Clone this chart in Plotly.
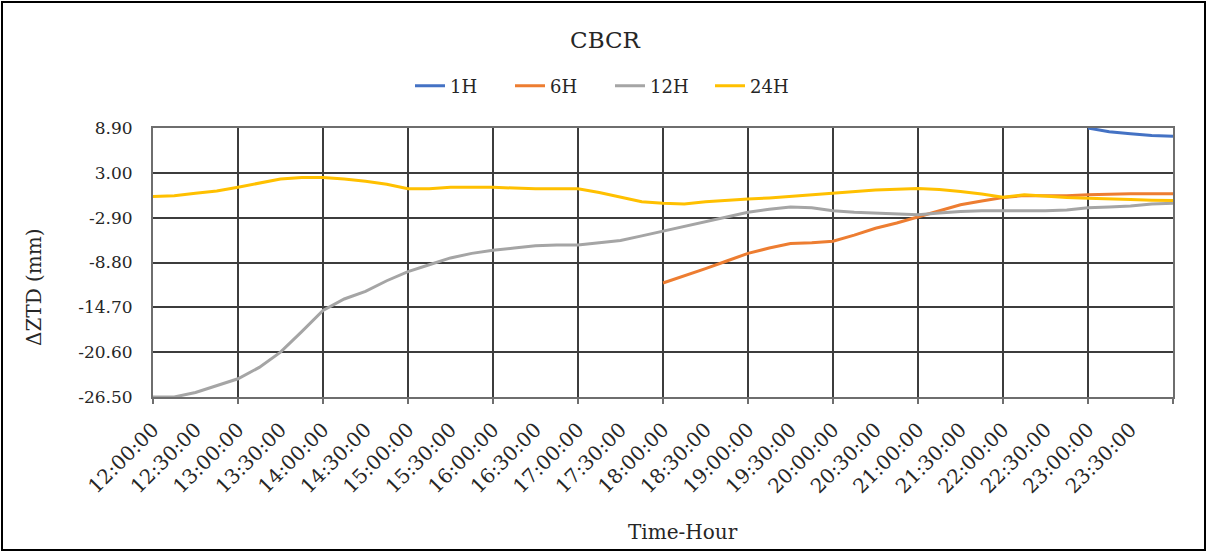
import plotly.graph_objects as go

# Sample times (every 15 minutes, "24:00" = end of day)
TIMES = ["12:00", "12:15", "12:30", "12:45", "13:00", "13:15", "13:30", "13:45",
         "14:00", "14:15", "14:30", "14:45", "15:00", "15:15", "15:30", "15:45",
         "16:00", "16:15", "16:30", "16:45", "17:00", "17:15", "17:30", "17:45",
         "18:00", "18:15", "18:30", "18:45", "19:00", "19:15", "19:30", "19:45",
         "20:00", "20:15", "20:30", "20:45", "21:00", "21:15", "21:30", "21:45",
         "22:00", "22:15", "22:30", "22:45", "23:00", "23:15", "23:30", "23:45",
         "24:00"]

# ΔZTD (mm) for each forecast horizon; None where the series has no data
ZTD_1H = [None] * 44 + [8.9, 8.4, 8.15, 7.9, 7.8]

ZTD_6H = [None] * 24 + [-11.5, -10.6, -9.6, -8.6, -7.6, -6.9, -6.3, -6.2,
                        -6.0, -5.2, -4.3, -3.6, -2.8, -1.9, -1.2, -0.7,
                        -0.25, 0.0, 0.0, 0.0, 0.1, 0.2, 0.25, 0.25, 0.25]

ZTD_12H = [-26.5, -26.5, -25.9, -25.0, -24.1, -22.6, -20.6, -17.9,
           -15.1, -13.6, -12.6, -11.2, -10.0, -9.1, -8.2, -7.6,
           -7.2, -6.9, -6.6, -6.5, -6.5, -6.2, -5.9, -5.3,
           -4.7, -4.0, -3.4, -2.8, -2.2, -1.8, -1.5, -1.6,
           -2.0, -2.2, -2.3, -2.4, -2.5, -2.3, -2.1, -2.0,
           -2.0, -2.0, -2.0, -1.9, -1.6, -1.5, -1.35, -1.1, -1.0]

ZTD_24H = [-0.1, 0.0, 0.3, 0.6, 1.1, 1.7, 2.2, 2.4,
           2.4, 2.2, 1.9, 1.5, 0.9, 0.9, 1.1, 1.1,
           1.1, 1.0, 0.9, 0.9, 0.9, 0.4, -0.2, -0.8,
           -1.0, -1.1, -0.8, -0.6, -0.45, -0.3, -0.1, 0.1,
           0.35, 0.55, 0.75, 0.85, 0.95, 0.8, 0.55, 0.2,
           -0.2, 0.1, -0.1, -0.25, -0.35, -0.4, -0.5, -0.6, -0.65]

SERIES = [("1H", ZTD_1H, "#4472C4"),
          ("6H", ZTD_6H, "#ED7D31"),
          ("12H", ZTD_12H, "#A5A5A5"),
          ("24H", ZTD_24H, "#FFC000")]

# Axis ticks
X_TICK_LABELS = ["12:00:00", "12:30:00", "13:00:00", "13:30:00", "14:00:00",
                 "14:30:00", "15:00:00", "15:30:00", "16:00:00", "16:30:00",
                 "17:00:00", "17:30:00", "18:00:00", "18:30:00", "19:00:00",
                 "19:30:00", "20:00:00", "20:30:00", "21:00:00", "21:30:00",
                 "22:00:00", "22:30:00", "23:00:00", "23:30:00"]
Y_TICKS = [-26.5, -20.6, -14.7, -8.8, -2.9, 3.0, 8.9]


def to_hours(label):
    parts = label.split(":")
    return int(parts[0]) + int(parts[1]) / 60.0


hours = [to_hours(t) for t in TIMES]
label_hours = [to_hours(t) for t in X_TICK_LABELS]
grid_hours = list(range(12, 25))

FONT = "DejaVu Serif"
TEXT = "#262626"
GRID = "#3c3c3c"
FRAME = "#6e6e6e"

fig = go.Figure()

# Empty trace so the hourly grid axis is drawn underneath the data
fig.add_trace(go.Scatter(x=[], y=[], xaxis="x", yaxis="y",
                         showlegend=False, hoverinfo="skip"))

for name, values, color in SERIES:
    fig.add_trace(go.Scatter(
        x=hours, y=values, name=name, mode="lines",
        line=dict(color=color, width=3),
        xaxis="x2", yaxis="y", connectgaps=False,
    ))

W, H = 1208, 553
L, R, T, B = 153, 35, 128, 156
pw, ph = W - L - R, H - T - B


def px_x(x):
    return (x - L) / pw


def px_y(y):
    return (H - B - y) / ph


fig.update_layout(
    width=W, height=H,
    margin=dict(l=L, r=R, t=T, b=B),
    paper_bgcolor="white", plot_bgcolor="white",
    font=dict(family=FONT, color=TEXT, size=16),
    title=dict(text="CBCR", x=px_x(605), xref="paper", xanchor="center",
               y=1 - 40 / H, yref="container", yanchor="middle",
               font=dict(size=23, color=TEXT, family=FONT)),
    showlegend=True,
    legend=dict(orientation="h", x=px_x(610), xanchor="center",
                y=px_y(86), yanchor="middle", itemwidth=30, entrywidth=55,
                font=dict(size=18, family=FONT, color=TEXT),
                bgcolor="rgba(0,0,0,0)"),
    xaxis=dict(range=[12, 24], tickvals=grid_hours, showticklabels=False,
               showgrid=True, gridcolor=GRID, gridwidth=1.6,
               ticks="outside", ticklen=5, tickcolor=FRAME, tickwidth=1.5,
               showline=True, linecolor=FRAME, linewidth=2, mirror=True,
               zeroline=False, fixedrange=True),
    xaxis2=dict(range=[12, 24], overlaying="x", anchor="y", side="bottom",
                tickvals=label_hours, ticktext=X_TICK_LABELS, tickangle=-45,
                tickfont=dict(size=20, family=FONT, color=TEXT),
                ticklabelstandoff=16,
                showgrid=False, showline=False, zeroline=False, ticks=""),
    yaxis=dict(range=[-26.5, 8.9], tickvals=Y_TICKS,
               ticktext=["%.2f" % v for v in Y_TICKS],
               tickfont=dict(size=17, family=FONT, color=TEXT),
               showgrid=True, gridcolor=GRID, gridwidth=1.6,
               showline=True, linecolor=FRAME, linewidth=2, mirror=True,
               zeroline=False, ticks="", ticklabelstandoff=15),
    annotations=[
        dict(text="ΔZTD (mm)", textangle=-90, xref="paper", yref="paper",
             x=px_x(34), y=px_y(287), xanchor="center", yanchor="middle",
             showarrow=False, font=dict(size=20, family=FONT, color=TEXT)),
        dict(text="Time-Hour", xref="paper", yref="paper",
             x=px_x(683), y=px_y(532), xanchor="center", yanchor="middle",
             showarrow=False, font=dict(size=20, family=FONT, color=TEXT)),
    ],
    shapes=[
        dict(type="rect", xref="paper", yref="paper",
             x0=px_x(2), x1=px_x(1205), y0=px_y(550), y1=px_y(2),
             line=dict(color="black", width=2), fillcolor="rgba(0,0,0,0)",
             layer="below"),
    ],
)

fig.write_html("out.html")
